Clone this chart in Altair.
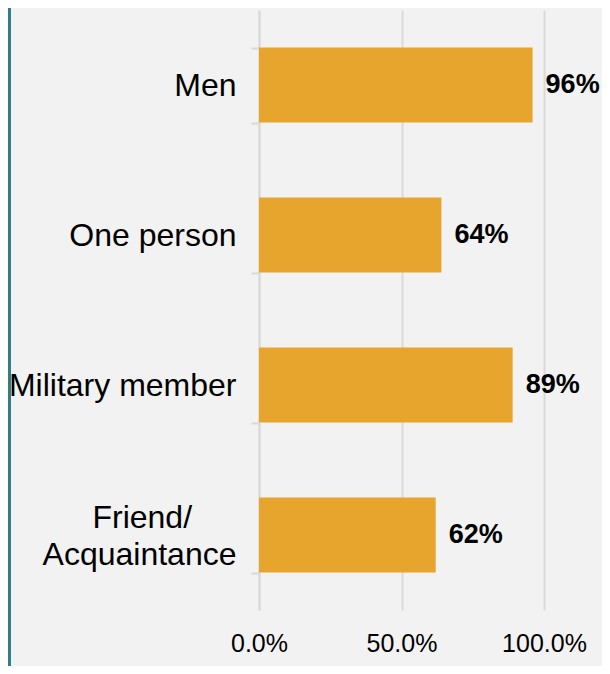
import altair as alt
import pandas as pd

categories = ["Men", "One person", "Military member", "Friend/Acquaintance"]
values = [0.96, 0.64, 0.89, 0.62]
value_labels = ["96%", "64%", "89%", "62%"]
x_ticks = [0, 0.5, 1.0]

df = pd.DataFrame({"category": categories, "value": values, "label": value_labels})

FONT = "Liberation Sans"
GRID = "#d9d9d9"
BAR = "#E8A52E"
TEAL = "#2F7F8A"
# non-breaking spaces followed by a zero-width space so that trimming keeps them
PAD = "\u00a0" * 5 + "\u200b"

label_expr = (
    "datum.value == 'Friend/Acquaintance' ? ['Friend/" + PAD + "', 'Acquaintance'] : datum.value"
)

y_enc = alt.Y(
    "category:N",
    sort=categories,
    title=None,
    scale=alt.Scale(paddingInner=0.5, paddingOuter=0.25),
    axis=alt.Axis(
        tickBand="extent",
        domainColor=GRID,
        domainWidth=2,
        tickColor=GRID,
        tickWidth=2,
        tickSize=8,
        labelPadding=15,
        labelFont=FONT,
        labelFontSize=32,
        labelColor="black",
        labelLineHeight=37,
        labelLimit=400,
        labelOffset={
            "condition": {"test": "datum.value == 'Friend/Acquaintance'", "value": -18},
            "value": 0,
        },
        grid=False,
        labelExpr=label_expr,
    ),
)

x_enc = alt.X(
    "value:Q",
    title=None,
    scale=alt.Scale(domain=[0, 1]),
    axis=alt.Axis(
        values=x_ticks,
        format=".1%",
        domain=False,
        ticks=False,
        tickSize=0,
        labelPadding=21,
        labelFont=FONT,
        labelFontSize=25,
        labelColor="black",
        labelFlush=False,
        gridColor=GRID,
        gridWidth=2,
    ),
)

base = alt.Chart(df)

bars = base.mark_bar(color=BAR).encode(x=x_enc, y=y_enc)

texts = base.mark_text(
    align="left",
    baseline="middle",
    dx=13,
    font=FONT,
    fontSize=27,
    fontWeight="bold",
    color="black",
).encode(x="value:Q", y=alt.Y("category:N", sort=categories), text="label:N")

edge = alt.Chart(df).mark_rule(color=TEAL, strokeWidth=3).encode(
    x=alt.value(-249.5), y=alt.value(-2), y2=alt.value(656)
)

chart = (
    alt.layer(bars, texts, edge)
    .properties(
        width=285,
        height=600,
        autosize=alt.AutoSizeParams(type="none"),
        padding={"left": 251, "top": 2, "right": 58, "bottom": 56},
        background="#f2f2f2",
    )
    .configure_view(stroke=None)
)

chart.save("out.html", embed_options={"renderer": "svg", "actions": False})
